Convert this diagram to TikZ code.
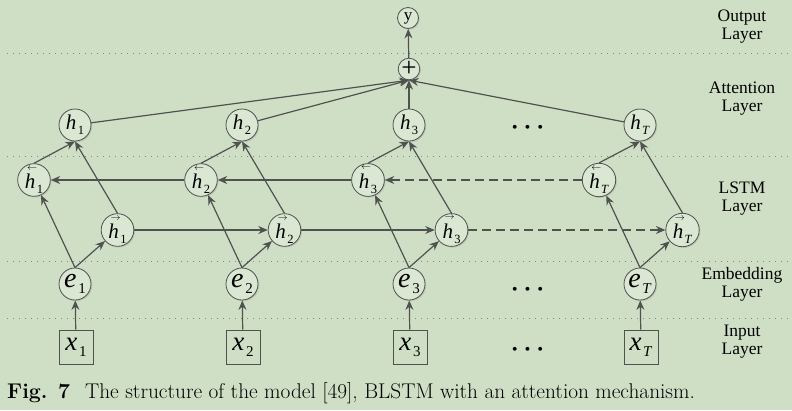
\documentclass[tikz,border=0pt]{standalone}
\usepackage{amsmath}
\usepackage{fontspec}
\usepackage{tikz}
\usetikzlibrary{
    arrows.meta,
    shadows
}
\newfontfamily\tms{Liberation Serif}
\definecolor{bgcol}{RGB}{207,223,197}
\definecolor{nodefill}{RGB}{218,231,211}
\definecolor{linecol}{RGB}{80,82,80}

% symbol with a subscript, Times style
\newcommand{\subsz}{13}
\newcommand{\lbl}[2]{{\itshape #1}\hspace{0.06em}\raisebox{-0.5ex}{\fontsize{\subsz}{\subsz}\selectfont #2}}
% h with a small direction arrow above it
\newcommand{\harr}[2]{\makebox[0pt][l]{\raisebox{1.95ex}{\hspace{0.1em}\fontsize{10}{10}\selectfont$#1$}}\lbl{h}{#2}}

\tikzset{
    unit/.style={circle, draw=linecol, fill=nodefill, thick, minimum size=32pt, inner sep=0pt,
        drop shadow={opacity=0.25, shadow xshift=1.2pt, shadow yshift=-1.2pt},
        font=\tms\fontsize{21}{21}\selectfont\renewcommand{\subsz}{12.5}},
    bigunit/.style={unit, font=\tms\fontsize{28}{28}\selectfont\renewcommand{\subsz}{15}},
    inbox/.style={rectangle, draw=linecol, thick, minimum size=34pt, inner sep=0pt,
        font=\tms\fontsize{27}{27}\selectfont\renewcommand{\subsz}{15}},
    smallunit/.style={unit, minimum size=21pt},
    conn/.style={draw=linecol, line width=1.2pt, -{Stealth[length=9.5pt,width=8pt]}},
    sep/.style={draw=linecol!70, line width=1pt, dash pattern=on 1pt off 5pt},
    layername/.style={align=center, font=\tms\fontsize{17.5}{18}\selectfont},
    dots/.style={font=\fontsize{27}{27}\selectfont\boldmath}
}

\begin{document}
\begin{tikzpicture}[x=1pt, y=-1pt]
    % Background
    \useasboundingbox[fill=bgcol] (0,0) rectangle (792,410);

    % Layer separators
    \foreach \yy in {53,156,261,318}
        \draw[sep] (7,\yy) -- (792,\yy);

    % Columns of the network
    \foreach \n/\s/\xc in {1/1/75, 2/2/242, 3/3/409, T/\textit{T}/640} {
        \node[inbox] (x\n) at (\xc+1,347) {\lbl{x}{\s}};
        \node[bigunit] (e\n) at (\xc,284) {\lbl{e}{\s}};
        \node[unit] (hf\n) at (\xc+42.5,230) {\harr{\rightarrow}{\s}};
        \node[unit] (hb\n) at (\xc-41,180) {\harr{\leftarrow}{\s}};
        \node[unit] (h\n) at (\xc,125) {\lbl{h}{\s}};
    }

    % Attention and output
    \node[smallunit, font=\tms\fontsize{27}{27}\selectfont] (plus) at (409,69) {+};
    \node[smallunit, font=\tms\fontsize{17}{17}\selectfont] (y) at (408,18) {y};

    % Dots between columns
    \node[dots] (dots1) at (530,128) {$\cdots$};
    \node[dots] (dots2) at (530,290) {$\cdots$};
    \node[dots] (dots3) at (530,350) {$\cdots$};

    % Connections in each column
    \foreach \n in {1,2,3,T} {
        \draw[conn] (x\n) -- (e\n);
        \draw[conn] (e\n.north) -- (hf\n);
        \draw[conn] (e\n.north) -- (hb\n);
        \draw[conn] (hf\n.north) -- (h\n.south);
        \draw[conn] (hb\n.north) -- (h\n.south);
        \draw[conn] (h\n) -- (plus.south);
    }

    % Forward and backward LSTM chains
    \draw[conn] (hf1) -- (hf2);
    \draw[conn] (hf2) -- (hf3);
    \draw[conn, dash pattern=on 9pt off 5pt] (hf3) -- (hfT);
    \draw[conn] (hb2) -- (hb1);
    \draw[conn] (hb3) -- (hb2);
    \draw[conn, dash pattern=on 9pt off 5pt] (hbT) -- (hb3);

    \draw[conn] (plus) -- (y);

    % Layer names
    \node[layername] (outname) at (742,27) {Output\\Layer};
    \node[layername] (attname) at (742,99) {Attention\\Layer};
    \node[layername] (lstmname) at (742,199) {LSTM\\Layer};
    \node[layername] (embname) at (742,284) {Embedding\\Layer};
    \node[layername] (inname) at (742,342) {Input\\Layer};

    % Caption
    \node[anchor=west, inner sep=0pt, font=\fontsize{21.3}{24}\selectfont] (caption) at (7,393)
        {\textbf{Fig. 7}\hspace{0.7em}The structure of the model [49], BLSTM with an attention mechanism.};
\end{tikzpicture}
\end{document}
